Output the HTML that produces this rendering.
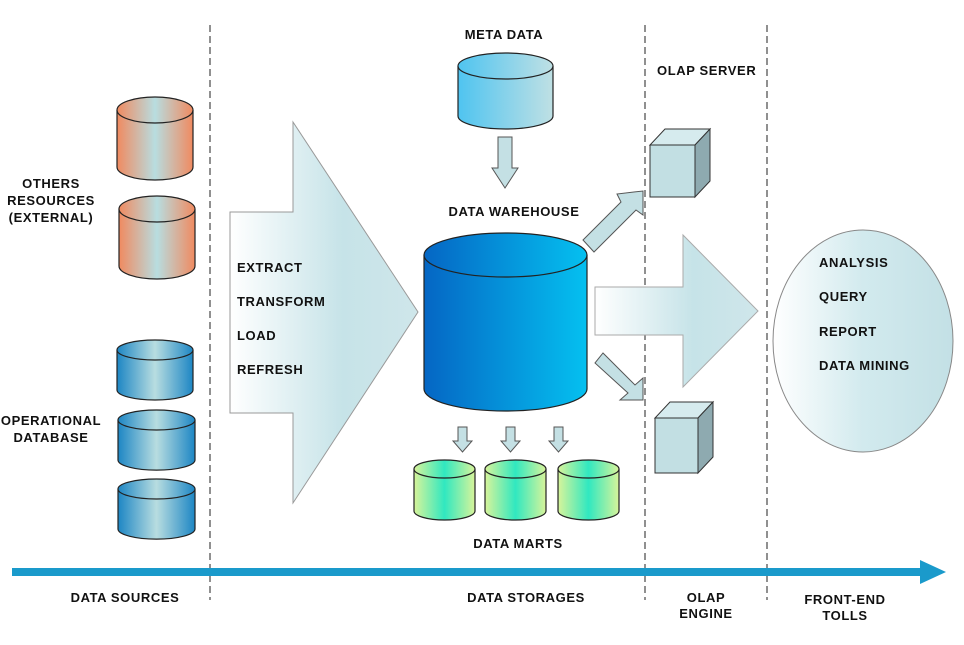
<!DOCTYPE html>
<html><head><meta charset="utf-8"><style>
html,body{margin:0;padding:0;background:#fff}
svg{display:block}
text{font-family:"Liberation Sans",Arial,sans-serif;font-weight:bold;font-size:13px;fill:#111;letter-spacing:0.6px}
</style></head><body>
<svg width="964" height="645" viewBox="0 0 964 645" xmlns="http://www.w3.org/2000/svg">
<defs>
<linearGradient id="or" x1="0" x2="1"><stop offset="0" stop-color="#f08a60"/><stop offset="0.5" stop-color="#b8dde0"/><stop offset="1" stop-color="#f08a60"/></linearGradient>
<linearGradient id="bl" x1="0" x2="1"><stop offset="0" stop-color="#1d86c4"/><stop offset="0.5" stop-color="#b8dde0"/><stop offset="1" stop-color="#1d86c4"/></linearGradient>
<linearGradient id="md" x1="0" x2="1"><stop offset="0" stop-color="#4fc4f0"/><stop offset="1" stop-color="#bfe0e4"/></linearGradient>
<linearGradient id="dw" x1="0" x2="1"><stop offset="0" stop-color="#0566c4"/><stop offset="1" stop-color="#05c0f0"/></linearGradient>
<linearGradient id="gr" x1="0" x2="1"><stop offset="0" stop-color="#d8f49a"/><stop offset="0.5" stop-color="#30e8c0"/><stop offset="1" stop-color="#d8f49a"/></linearGradient>
<linearGradient id="ar" x1="0" x2="1"><stop offset="0" stop-color="#ffffff"/><stop offset="0.6" stop-color="#c6e3e8"/><stop offset="1" stop-color="#cfe6ea"/></linearGradient>
<linearGradient id="el" x1="0" x2="1"><stop offset="0" stop-color="#ffffff"/><stop offset="0.5" stop-color="#d2eaee"/><stop offset="1" stop-color="#c3e0e5"/></linearGradient>
</defs>
<g stroke="#555" stroke-width="1.3" stroke-dasharray="7,4">
<line x1="210" y1="25" x2="210" y2="600"/><line x1="645" y1="25" x2="645" y2="600"/><line x1="767" y1="25" x2="767" y2="600"/>
</g>
<rect x="12" y="568" width="912" height="8" fill="#1a9acb"/>
<polygon points="920,560 946,572 920,584" fill="#1a9acb"/>
<g stroke="#222" stroke-width="1.2">
<path d="M117,110 v57 a38,13 0 0 0 76,0 v-57" fill="url(#or)"/><ellipse cx="155" cy="110" rx="38" ry="13" fill="url(#or)"/>
<path d="M119,209 v57 a38,13 0 0 0 76,0 v-57" fill="url(#or)"/><ellipse cx="157" cy="209" rx="38" ry="13" fill="url(#or)"/>
<path d="M117,350 v40 a38,10 0 0 0 76,0 v-40" fill="url(#bl)"/><ellipse cx="155" cy="350" rx="38" ry="10" fill="url(#bl)"/>
<path d="M118,420 v40 a38,10 0 0 0 77,0 v-40" fill="url(#bl)"/><ellipse cx="156.5" cy="420" rx="38.5" ry="10" fill="url(#bl)"/>
<path d="M118,489 v40 a38,10 0 0 0 77,0 v-40" fill="url(#bl)"/><ellipse cx="156.5" cy="489" rx="38.5" ry="10" fill="url(#bl)"/>
<path d="M458,66 v50 a47.5,13 0 0 0 95,0 v-50" fill="url(#md)"/><ellipse cx="505.5" cy="66" rx="47.5" ry="13" fill="url(#md)"/>
<path d="M424,255 v134 a81.5,22 0 0 0 163,0 v-134" fill="url(#dw)"/><ellipse cx="505.5" cy="255" rx="81.5" ry="22" fill="url(#dw)"/>
<path d="M414,469 v42 a30.5,9 0 0 0 61,0 v-42" fill="url(#gr)"/><ellipse cx="444.5" cy="469" rx="30.5" ry="9" fill="url(#gr)"/>
<path d="M485,469 v42 a30.5,9 0 0 0 61,0 v-42" fill="url(#gr)"/><ellipse cx="515.5" cy="469" rx="30.5" ry="9" fill="url(#gr)"/>
<path d="M558,469 v42 a30.5,9 0 0 0 61,0 v-42" fill="url(#gr)"/><ellipse cx="588.5" cy="469" rx="30.5" ry="9" fill="url(#gr)"/>
</g>
<polygon points="230,212 293,212 293,122 418,312 293,503 293,413 230,413" fill="url(#ar)" stroke="#999" stroke-width="1"/>
<polygon points="595,287 683,287 683,235 758,311 683,387 683,335 595,335" fill="url(#ar)" stroke="#aaa" stroke-width="1"/>
<g fill="#c4e0e4" stroke="#555" stroke-width="1">
<polygon points="498,137 512,137 512,168 518,168 505,188 492,168 498,168"/>
<polygon points="458,427 467,427 467,441 472,441 462.5,452 453,441 458,441"/>
<polygon points="506,427 515,427 515,441 520,441 510.5,452 501,441 506,441"/>
<polygon points="554,427 563,427 563,441 568,441 558.5,452 549,441 554,441"/>
<polygon points="583,240 621,202 617,194 643,191 643,215 636,210 594,252"/>
<polygon points="603,353 635,385 643,378 643,400 620,400 628,393 595,363"/>
</g>
<g stroke="#333" stroke-width="1">
<polygon points="650,145 695,145 710,129 665,129" fill="#d6ebee"/>
<polygon points="695,145 710,129 710,181 695,197" fill="#8eaab0"/>
<rect x="650" y="145" width="45" height="52" fill="#c2dfe3"/>
<polygon points="655,418 698,418 713,402 670,402" fill="#d6ebee"/>
<polygon points="698,418 713,402 713,457 698,473" fill="#8eaab0"/>
<rect x="655" y="418" width="43" height="55" fill="#c2dfe3"/>
</g>
<ellipse cx="863" cy="341" rx="90" ry="111" fill="url(#el)" stroke="#888"/>
<g text-anchor="middle">
<text x="51" y="188">OTHERS</text><text x="51" y="205">RESOURCES</text><text x="51" y="222">(EXTERNAL)</text>
<text x="51" y="425">OPERATIONAL</text><text x="51" y="442">DATABASE</text>
<text x="504" y="39">META DATA</text>
<text x="514" y="216">DATA WAREHOUSE</text>
<text x="518" y="548">DATA MARTS</text>
<text x="125" y="602">DATA SOURCES</text>
<text x="526" y="602">DATA STORAGES</text>
<text x="706" y="602">OLAP</text><text x="706" y="618">ENGINE</text>
<text x="845" y="604">FRONT-END</text><text x="845" y="620">TOLLS</text>
</g>
<text x="657" y="75">OLAP SERVER</text>
<text x="237" y="272">EXTRACT</text><text x="237" y="306">TRANSFORM</text><text x="237" y="340">LOAD</text><text x="237" y="374">REFRESH</text>
<text x="819" y="267">ANALYSIS</text><text x="819" y="301">QUERY</text><text x="819" y="336">REPORT</text><text x="819" y="370">DATA MINING</text>
</svg>
</body></html>
